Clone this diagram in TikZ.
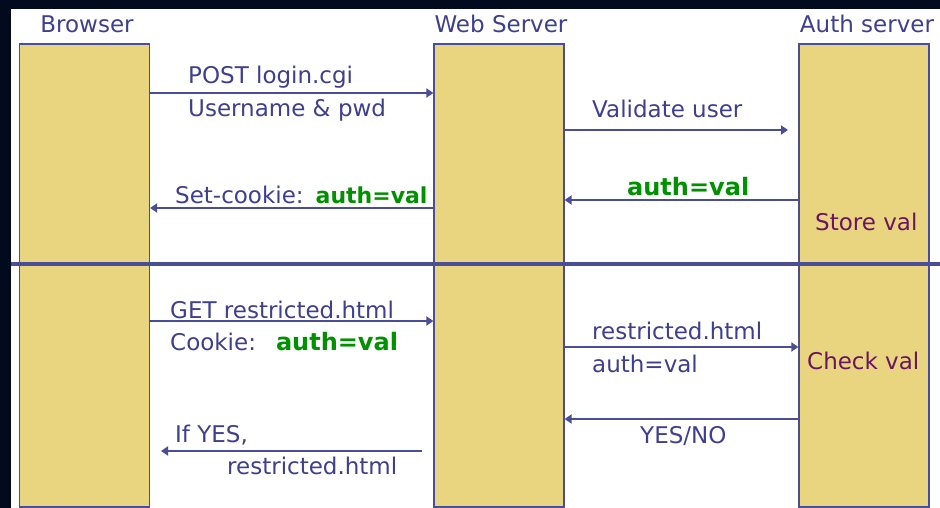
\documentclass[tikz,border=0pt]{standalone}
\usepackage{fontspec}
\setmainfont{DejaVu Sans}
\usetikzlibrary{arrows.meta}
\definecolor{slide}{HTML}{020B1E}
\definecolor{ink}{HTML}{3E3F8E}
\definecolor{wire}{HTML}{4A4D98}
\definecolor{lanefill}{HTML}{E9D47F}
\definecolor{okgreen}{HTML}{009100}
\definecolor{storeink}{HTML}{6A1560}
\newcommand\authtok[2]{\textcolor{okgreen}{\fontsize{#1}{28}\selectfont\bfseries #2}}

\begin{document}
\begin{tikzpicture}[
 x=1pt, y=-1pt,
 >={Triangle[length=7pt,width=9pt]},
 inner sep=0pt,
 lifeline/.style={draw=wire,line width=1.2pt,fill=lanefill,rectangle,minimum width=130pt,minimum height=463pt},
 title/.style={anchor=base,text=ink,font=\fontsize{23}{28}\selectfont},
 msg/.style={anchor=base west,text=ink,font=\fontsize{23}{28}\selectfont},
 note/.style={anchor=base west,text=storeink,font=\fontsize{23}{28}\selectfont},
 wireline/.style={draw=wire,line width=1.8pt}
]
\useasboundingbox (0,0) rectangle (940,508);
\fill[slide] (0,0) rectangle (940,508);
\fill[white] (11,9) rectangle (940,508);

% lifelines
\node (browser) [lifeline] at (84.5,275.5) {};
\node (web) [lifeline] at (499,275.5) {};
\node (auth) [lifeline] at (864,275.5) {};
\node (browser-title) [title] at (87,33) {Browser};
\node (web-title) [title] at (501,33) {Web Server};
\node (auth-title) [title] at (867,33) {Auth server};

% message levels
\coordinate (yPost) at (0,93);
\coordinate (validEnd) at (788,130);
\coordinate (yAuth) at (0,200);
\coordinate (yCookie) at (0,208);
\coordinate (yGet) at (0,321);
\coordinate (yCheck) at (0,347);
\coordinate (yAnswer) at (0,419);
\coordinate (yesStart) at (422,451);
\coordinate (yesEnd) at (161,451);

% login
\draw[wireline,->] (browser.east |- yPost) -- (web.west |- yPost);
\draw[wireline,->] (web.east |- validEnd) -- (validEnd);
\draw[wireline,->] (auth.west |- yAuth) -- (web.east |- yAuth);
\draw[wireline,->] (web.west |- yCookie) -- (browser.east |- yCookie);
\node (post) [msg] at (188,84) {POST login.cgi};
\node (cred) [msg] at (188,117) {Username \& pwd};
\node (validate) [msg] at (592,118) {Validate user};
\node (token) [msg] at (627,195) {\authtok{24}{auth=val}};
\node (setcookie) [msg] at (175,203) {Set-cookie:\hspace{12pt}\authtok{22}{auth=val}};
\node (store) [note] at (815,230) {Store val};

% divider
\draw[wire,line width=4.5pt] (11,264) -- (940,264);

% later request
\draw[wireline,->] (browser.east |- yGet) -- (web.west |- yGet);
\draw[wireline,->] (web.east |- yCheck) -- (auth.west |- yCheck);
\draw[wireline,->] (auth.west |- yAnswer) -- (web.east |- yAnswer);
\draw[wireline,->] (yesStart) -- (yesEnd);
\node (get) [msg] at (170,318) {GET restricted.html};
\node (cookie) [msg] at (170,350) {Cookie:\hspace{20pt}\authtok{24}{auth=val}};
\node (fwd) [msg] at (592,339) {restricted.html};
\node (fwd-tok) [msg] at (592,372) {auth=val};
\node (check) [note] at (807,369) {Check val};
\node (answer) [msg] at (640,443) {YES/NO};
\node (ifyes) [msg] at (175,442) {If YES,};
\node (page) [msg] at (227,474) {restricted.html};
\end{tikzpicture}
\end{document}
